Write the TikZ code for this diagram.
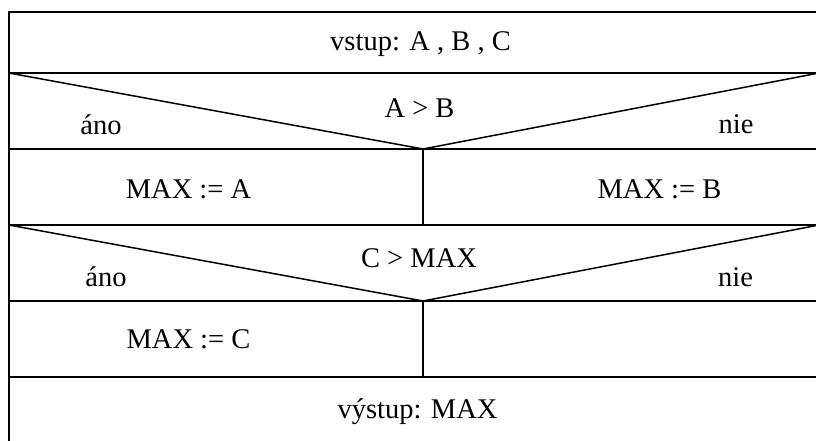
\documentclass[tikz,border=0pt]{standalone}
\usepackage{fontspec}
\setmainfont{Liberation Serif}
\usetikzlibrary{positioning}

\begin{document}
\begin{tikzpicture}[x=1pt, y=-1pt, line join=round,
  every node/.style={font=\fontsize{28.5}{34}\selectfont, inner sep=0pt, anchor=base},
  rule/.style={line width=1.5pt}]
\useasboundingbox (0,0) rectangle (816,440);
\clip (0,0) rectangle (816,440);
% frame and rows
\draw[rule] (9,12) rectangle (819,443);
\foreach \y in {73,149,225,301,377}
  \draw[rule] (9,\y) -- (819,\y);
\node (vstup) at (420.5,50) {vstup: A , B , C};
% first decision
\coordinate (tip1) at (423,149);
\draw[rule] (9,73) -- (tip1) -- (819,73);
\draw[rule] (tip1) -- (423,225);
\node (cond1) at (419.5,117) {A > B};
\node (ano1) at (101,134) {áno};
\node (nie1) at (736,133) {nie};
\node (maxa) at (188.5,198) {MAX := A};
\node (maxb) at (659.5,198) {MAX := B};
% second decision
\coordinate (tip2) at (423,301);
\draw[rule] (9,225) -- (tip2) -- (819,225);
\draw[rule] (tip2) -- (423,377);
\node (cond2) at (419,267) {C > MAX};
\node (ano2) at (106,286) {áno};
\node (nie2) at (735.5,286) {nie};
\node (maxc) at (188.5,348) {MAX := C};
% output
\node (vystup) at (417.5,418) {výstup: MAX};
\end{tikzpicture}
\end{document}
